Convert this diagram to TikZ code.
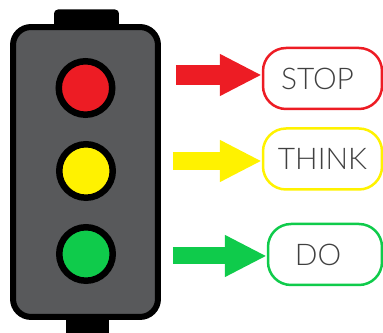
\documentclass[tikz,border=0pt]{standalone}
\usepackage{fontspec}
\setmainfont{Lato Light}
\usetikzlibrary{arrows.meta}
\definecolor{stopred}{HTML}{ED1C24}
\definecolor{thinkyellow}{HTML}{FFF200}
\definecolor{dogreen}{HTML}{0FCB4B}
\definecolor{lampgray}{HTML}{58595B}
\begin{document}
\begin{tikzpicture}[
        x=0.02cm, y=-0.02cm,
        housing/.style={rectangle, draw=black, fill=lampgray, line width=0.12cm, rounded corners=0.36cm, minimum width=2.9cm, minimum height=5.8cm},
        mount/.style={rectangle, fill=black, rounded corners=0.08cm},
        lamp/.style={circle, draw=black, line width=0.13cm, minimum size=1.07cm, inner sep=0pt},
        signbox/.style={rectangle, draw=#1, line width=0.05cm, rounded corners=0.46cm, minimum width=2.38cm, minimum height=1.22cm, text=black!75, font=\fontsize{17}{17}\selectfont},
        signarrow/.style={-{Triangle[length=0.84cm, width=0.78cm]}, draw=#1}
        ]
      \useasboundingbox (0,0) rectangle (383,333);

      \node[mount, minimum width=1.3cm, minimum height=0.42cm] (cap) at (86.5,20) {};
      \node[mount, rounded corners=0pt, minimum width=0.86cm, minimum height=0.4cm] (pole) at (87.5,328) {};
      \node[housing] (body) at (85.5,172) {};

      \node[lamp, fill=stopred] (red) at (85.5,88) {};
      \node[lamp, fill=thinkyellow] (yellow) at (86,171) {};
      \node[lamp, fill=dogreen] (green) at (86,254) {};

      \node[signbox=stopred] (stop) at (322.5,78.5) {\kern-0.2cm\raisebox{-0.06cm}{STOP}};
      \node[signbox=thinkyellow] (think) at (322.5,159) {\raisebox{-0.02cm}{THINK}};
      \node[signbox=dogreen, minimum width=2.28cm] (do) at (325,254.5) {\kern-0.28cm\raisebox{-0.03cm}{DO}};

      \coordinate (stoptail) at (176,75);
      \coordinate (thinktail) at (173,161);
      \coordinate (dotail) at (173,256);

      \draw[signarrow=stopred, line width=0.4cm] (stoptail) -- (stop.west |- stoptail);
      \draw[signarrow=thinkyellow, line width=0.36cm] (thinktail) -- (think.west |- thinktail);
      \draw[signarrow=dogreen, line width=0.34cm] (dotail) -- (do.west |- dotail);

    \end{tikzpicture}
\end{document}
